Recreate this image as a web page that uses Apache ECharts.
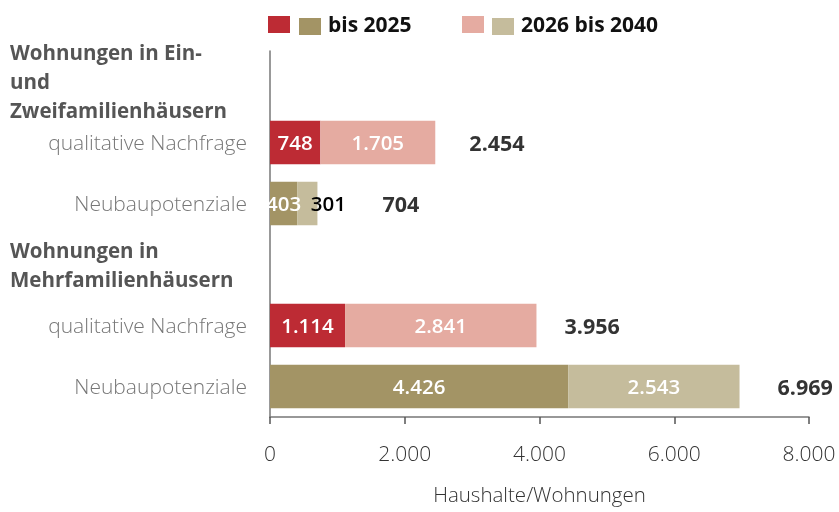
<!DOCTYPE html>
<html>
<head>
<meta charset="utf-8">
<script src="https://cdn.jsdelivr.net/npm/echarts@6/dist/echarts.min.js"></script>
<style>
  html, body { margin: 0; padding: 0; background: #fff; }
  #main { width: 839px; height: 512px; }
</style>
</head>
<body>
<div id="main"></div>
<script>
// Kategorien (von oben nach unten), Überschriften haben keinen Balken
var categories = ['ezfh', 'ezfhQual', 'ezfhNeu', 'mfh', 'mfhQual', 'mfhNeu'];
var categoryLabels = [
    'Wohnungen in Ein-\nund\nZweifamilienhäusern',
    'qualitative Nachfrage',
    'Neubaupotenziale',
    'Wohnungen in\nMehrfamilienhäusern',
    'qualitative Nachfrage',
    'Neubaupotenziale'
];
var headingRows = [0, 3];

// Werte
var qualBis2025 = [null, 748, null, null, 1114, null];
var qualBis2040 = [null, 1705, null, null, 2841, null];
var neuBis2025  = [null, null, 403, null, null, 4426];
var neuBis2040  = [null, null, 301, null, null, 2543];
var totals      = [null, 2454, 704, null, 3956, 6969];

var xTicks = [0, 2000, 4000, 6000, 8000];

var fmt = function (v) {
    return String(v).replace(/\B(?=(\d{3})+(?!\d))/g, '.');
};

var FONT = '"Open Sans", "Noto Sans", sans-serif';

var insideLabel = {
    show: true,
    position: 'inside',
    color: '#fff',
    fontFamily: FONT,
    fontSize: 20.5,
    fontWeight: 600,
    offset: [0, 2],
    formatter: function (p) { return fmt(p.value); }
};

// 301 steht im Original schwarz neben dem schmalen Segment
var neu2040Data = neuBis2040.map(function (v, i) {
    if (i === 2) {
        return { value: v, label: { color: '#000', offset: [21, 2] } };
    }
    return v;
});

// Summenbeschriftung: Abstand zum Balkenende wie im Original
var totalGap = [0, 29, 60, 0, 23, 33];
var totalData = totals.map(function (v, i) {
    if (v === null) return null;
    return { value: [v, i], label: { offset: [totalGap[i], 2] } };
});

var legendBase = {
    top: 16,
    padding: 0,
    itemWidth: 22,
    itemHeight: 17,
    icon: 'rect',
    selectedMode: false,
    textStyle: { fontFamily: FONT, fontSize: 21, fontWeight: 'bold', color: '#111', padding: [0, 0, 0, 2] }
};

var myChart = echarts.init(document.getElementById('main'));
var option = {
    animation: false,
    legend: [
        Object.assign({}, legendBase, { left: 268, data: ['q2025'], formatter: function () { return ''; } }),
        Object.assign({}, legendBase, { left: 299, data: ['n2025'], formatter: function () { return 'bis 2025'; } }),
        Object.assign({}, legendBase, { left: 462, data: ['q2040'], formatter: function () { return ''; } }),
        Object.assign({}, legendBase, { left: 492, data: ['n2040'], formatter: function () { return '2026 bis 2040'; } })
    ],
    grid: { left: 270, right: 30, top: 51, bottom: 90, containLabel: false },
    xAxis: {
        type: 'value',
        min: 0,
        max: 8000,
        interval: 2000,
        name: 'Haushalte/Wohnungen',
        nameLocation: 'middle',
        nameGap: 69,
        nameTextStyle: { fontFamily: FONT, fontSize: 20.5, color: '#333', fontWeight: 300 },
        axisLine: { show: true, lineStyle: { color: '#777', width: 1.5 } },
        axisTick: { show: true, length: 7, lineStyle: { color: '#555', width: 1.5 } },
        splitLine: { show: false },
        axisLabel: {
            margin: 28,
            fontFamily: FONT,
            fontSize: 21,
            fontWeight: 300,
            color: '#333',
            formatter: function (v) { return xTicks.indexOf(v) >= 0 ? fmt(v) : ''; }
        }
    },
    yAxis: {
        type: 'category',
        inverse: true,
        data: categories,
        axisLine: { show: true, lineStyle: { color: '#777', width: 1.5 } },
        axisTick: { show: false },
        axisLabel: {
            margin: 23,
            padding: [4, 0, 0, 0],
            formatter: function (v, i) {
                var txt = categoryLabels[i];
                if (headingRows.indexOf(i) >= 0) {
                    return txt.split('\n').map(function (l) { return '{h|' + l + '}'; }).join('\n');
                }
                return '{c|' + txt + '}';
            },
            rich: {
                h: {
                    fontFamily: FONT,
                    fontSize: 20.5,
                    fontWeight: 'bold',
                    color: '#555',
                    width: 237,
                    align: 'left',
                    lineHeight: 29
                },
                c: {
                    fontFamily: FONT,
                    fontSize: 21,
                    fontWeight: 300,
                    color: '#777'
                }
            }
        }
    },
    series: [
        {
            name: 'q2025', type: 'bar', stack: 'a', barCategoryGap: '29%', barGap: '-100%',
            itemStyle: { color: '#bd2b34' }, label: insideLabel, data: qualBis2025
        },
        {
            name: 'q2040', type: 'bar', stack: 'a', barGap: '-100%',
            itemStyle: { color: '#e5aba1' }, label: insideLabel, data: qualBis2040
        },
        {
            name: 'n2025', type: 'bar', stack: 'b', barGap: '-100%',
            itemStyle: { color: '#a39465' }, label: insideLabel, data: neuBis2025
        },
        {
            name: 'n2040', type: 'bar', stack: 'b', barGap: '-100%',
            itemStyle: { color: '#c5bc9c' }, label: insideLabel, data: neu2040Data
        },
        {
            name: 'total', type: 'scatter', symbolSize: 0, silent: true,
            label: {
                show: true,
                position: 'right',
                color: '#000',
                fontFamily: FONT,
                fontSize: 21.5,
                fontWeight: 'bold',
                formatter: function (p) { return fmt(p.value[0]); }
            },
            data: totalData
        }
    ]
};
myChart.setOption(option);
</script>
</body>
</html>
